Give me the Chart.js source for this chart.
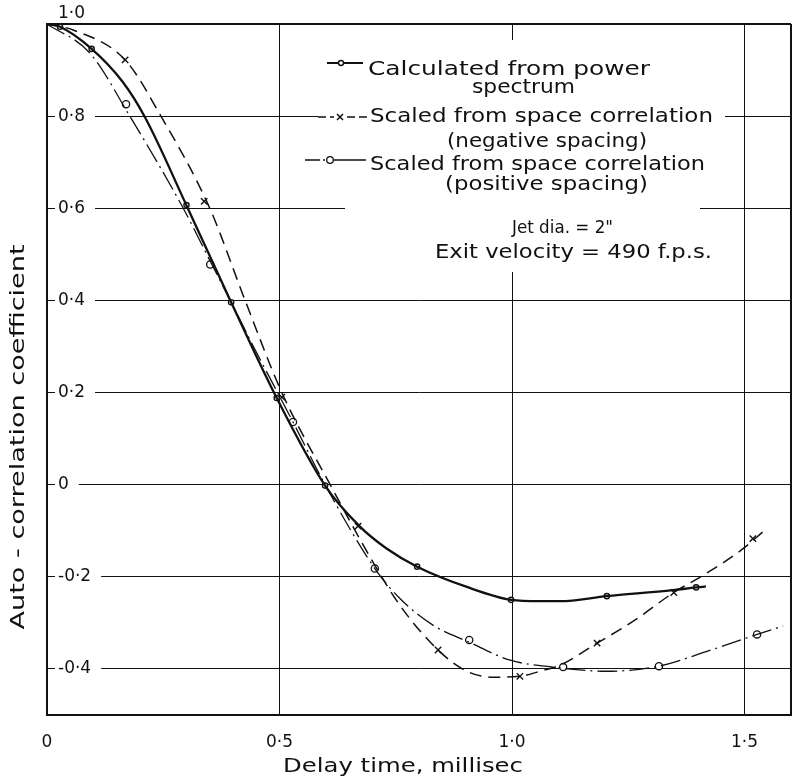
<!DOCTYPE html>
<html>
<head>
<meta charset="utf-8">
<script src="https://cdn.jsdelivr.net/npm/chart.js@4/dist/chart.umd.min.js"></script>
<style>
html,body{margin:0;padding:0;background:#fff;}
#wrap{width:797px;height:780px;position:relative;}
canvas{display:block;}
</style>
</head>
<body>
<div id="wrap"><canvas id="c" width="797" height="780"></canvas></div>
<script>
// ---------- DATA ----------
const xTickValues = [0, 0.5, 1.0, 1.5, 1.6];
const xTickLabels = ['0', '0·5', '1·0', '1·5', ''];
const yTickValues = [-0.4, -0.2, 0, 0.2, 0.4, 0.6, 0.8, 1.0];
const yTickLabels = ['-0·4', '-0·2', '0', '0·2', '0·4', '0·6', '0·8', '1·0'];

// Calculated from power spectrum (solid)
const calcCurveX = [0, 0.028, 0.096, 0.163, 0.211, 0.301, 0.396, 0.494, 0.598, 0.673, 0.731, 0.796, 0.903, 0.998, 1.060, 1.103, 1.204, 1.346, 1.396, 1.417];
const calcCurveY = [1.0, 0.994, 0.946, 0.874, 0.797, 0.604, 0.396, 0.188, -0.002, -0.091, -0.139, -0.178, -0.222, -0.250, -0.253, -0.253, -0.242, -0.229, -0.223, -0.221];
const calcMarkX = [0.028, 0.096, 0.300, 0.396, 0.494, 0.598, 0.796, 0.998, 1.204, 1.396];
const calcMarkY = [0.994, 0.946, 0.607, 0.396, 0.188, -0.002, -0.178, -0.250, -0.242, -0.223];

// Scaled from space correlation, negative spacing (dashed, x)
const negCurveX = [0, 0.056, 0.168, 0.245, 0.350, 0.426, 0.505, 0.609, 0.705, 0.759, 0.841, 0.903, 0.959, 1.017, 1.060, 1.103, 1.183, 1.260, 1.348, 1.411, 1.497, 1.540];
const negCurveY = [1.0, 0.987, 0.922, 0.800, 0.600, 0.400, 0.200, 0.000, -0.175, -0.262, -0.359, -0.405, -0.418, -0.416, -0.405, -0.392, -0.344, -0.297, -0.234, -0.197, -0.139, -0.102];
const negMarkX = [0.168, 0.338, 0.505, 0.669, 0.841, 1.017, 1.183, 1.348, 1.518];
const negMarkY = [0.922, 0.615, 0.190, -0.090, -0.359, -0.416, -0.344, -0.234, -0.117];

// Scaled from space correlation, positive spacing (dash-dot, o)
const posCurveX = [0, 0.092, 0.178, 0.293, 0.351, 0.396, 0.447, 0.529, 0.598, 0.705, 0.759, 0.830, 0.908, 0.996, 1.088, 1.204, 1.316, 1.419, 1.527, 1.583];
const posCurveY = [1.0, 0.937, 0.800, 0.600, 0.485, 0.396, 0.294, 0.136, 0.000, -0.182, -0.247, -0.305, -0.342, -0.381, -0.396, -0.405, -0.394, -0.362, -0.325, -0.307];
const posMarkX = [0.170, 0.351, 0.529, 0.705, 0.908, 1.110, 1.316, 1.527];
const posMarkY = [0.826, 0.478, 0.136, -0.182, -0.337, -0.396, -0.394, -0.325];

const legendLines = ['Calculated from power', 'spectrum', 'Scaled from space correlation', '(negative spacing)', 'Scaled from space correlation', '(positive spacing)'];
const noteLines = ['Jet dia. = 2"', 'Exit velocity = 490 f.p.s.'];
const xTitle = 'Delay time, millisec';
const yTitle = 'Auto - correlation coefficient';

// ---------- STYLE ----------
const INK = '#111';
const FONT = '"DejaVu Sans", "Liberation Sans", sans-serif';
const SOLID_W = 2.3, DASH = [12, 7], DASH_W = 1.5, DASHDOT = [20, 5, 2, 5], DASHDOT_W = 1.3;

const toXY = (xs, ys) => xs.map((x, i) => ({x: x, y: ys[i]}));

function fitText(c, str, x, baseline, width, size, align) {
  c.font = size + 'px ' + FONT;
  const w = c.measureText(str).width;
  const k = width / w;
  c.save();
  c.translate(x, baseline);
  c.scale(k, 1);
  c.textAlign = align || 'left';
  c.textBaseline = 'alphabetic';
  c.fillStyle = INK;
  c.fillText(str, 0, 0);
  c.restore();
}

const annotPlugin = {
  id: 'annot',
  beforeDatasetsDraw(chart) {
    const c = chart.ctx;
    c.save();
    // white legend panel interrupting the grid
    c.fillStyle = '#fff';
    c.fillRect(318, 40, 407, 135);
    c.fillRect(345, 175, 355, 97);

    c.strokeStyle = INK;
    c.fillStyle = INK;
    // sample 1: solid with small circle
    c.lineWidth = 2;
    c.setLineDash([]);
    c.beginPath(); c.moveTo(327, 63); c.lineTo(363, 63); c.stroke();
    c.lineWidth = 1.4;
    c.beginPath(); c.arc(341, 63, 2.5, 0, Math.PI * 2); c.fillStyle = '#fff'; c.fill(); c.stroke();
    // sample 2: dashed with x
    c.lineWidth = 1.5;
    [[318, 326], [330, 334], [347, 355], [359, 367]].forEach(s => {
      c.beginPath(); c.moveTo(s[0], 117); c.lineTo(s[1], 117); c.stroke();
    });
    c.beginPath(); c.moveTo(337, 114); c.lineTo(343, 120); c.moveTo(343, 114); c.lineTo(337, 120); c.stroke();
    // sample 3: dash-dot with o
    c.lineWidth = 1.3;
    c.beginPath(); c.moveTo(305, 160); c.lineTo(320, 160); c.moveTo(323, 160); c.lineTo(325, 160); c.moveTo(334, 160); c.lineTo(366, 160); c.stroke();
    c.beginPath(); c.arc(330, 160, 3.3, 0, Math.PI * 2); c.fillStyle = '#fff'; c.fill(); c.stroke();

    // legend text
    fitText(c, legendLines[0], 368, 75, 282, 19);
    fitText(c, legendLines[1], 472, 93, 103, 19);
    fitText(c, legendLines[2], 370, 122, 343, 19);
    fitText(c, legendLines[3], 447, 147, 200, 19);
    fitText(c, legendLines[4], 370, 170, 335, 19);
    fitText(c, legendLines[5], 445, 190, 203, 19);
    fitText(c, noteLines[0], 512, 233, 101, 17);
    fitText(c, noteLines[1], 435, 258, 277, 19);
    c.restore();
  },
  afterDraw(chart) {
    const c = chart.ctx;
    c.save();
    fitText(c, xTitle, 283, 772, 240, 20);
    c.translate(24, 437);
    c.rotate(-Math.PI / 2);
    fitText(c, yTitle, 0, 0, 385, 20, 'center');
    c.restore();
  }
};

const tickFont = {family: FONT, size: 17};

new Chart(document.getElementById('c').getContext('2d'), {
  type: 'scatter',
  data: {
    datasets: [
      {label: 'Calculated from power spectrum', data: toXY(calcCurveX, calcCurveY), showLine: true,
       borderColor: INK, borderWidth: SOLID_W, pointRadius: 0, cubicInterpolationMode: 'monotone', fill: false},
      {label: 'Calculated (points)', data: toXY(calcMarkX, calcMarkY), showLine: false,
       pointStyle: 'circle', pointRadius: 2.6, pointBorderWidth: 1.4, pointBorderColor: INK, pointBackgroundColor: '#fff'},
      {label: 'Scaled from space correlation (negative spacing)', data: toXY(negCurveX, negCurveY), showLine: true,
       borderColor: INK, borderWidth: DASH_W, borderDash: DASH, pointRadius: 0, cubicInterpolationMode: 'monotone', fill: false},
      {label: 'Negative spacing (points)', data: toXY(negMarkX, negMarkY), showLine: false,
       pointStyle: 'crossRot', pointRadius: 4.5, pointBorderWidth: 1.4, pointBorderColor: INK},
      {label: 'Scaled from space correlation (positive spacing)', data: toXY(posCurveX, posCurveY), showLine: true,
       borderColor: INK, borderWidth: DASHDOT_W, borderDash: DASHDOT, pointRadius: 0, cubicInterpolationMode: 'monotone', fill: false},
      {label: 'Positive spacing (points)', data: toXY(posMarkX, posMarkY), showLine: false,
       pointStyle: 'circle', pointRadius: 3.6, pointBorderWidth: 1.3, pointBorderColor: INK, pointBackgroundColor: '#fff'}
    ]
  },
  options: {
    responsive: false,
    animation: false,
    devicePixelRatio: 1,
    layout: {padding: {top: 24, right: 6, bottom: 0, left: 0}},
    plugins: {legend: {display: false}, tooltip: {enabled: false}, title: {display: false}},
    scales: {
      x: {
        type: 'linear', min: 0, max: 1.6,
        afterBuildTicks: s => { s.ticks = xTickValues.map(v => ({value: v})); },
        afterFit: s => { s.height = 65; s.paddingLeft = 0; s.paddingRight = 0; s.paddingTop = 0; s.paddingBottom = 0; },
        ticks: {autoSkip: false, maxRotation: 0, minRotation: 0, padding: 17, color: INK, font: tickFont,
                callback: (v, i) => xTickLabels[i]},
        grid: {color: INK, drawTicks: false, lineWidth: ctx => (ctx.tick && ctx.tick.value === 1.6) ? 2 : 1},
        border: {display: true, color: INK, width: 2}
      },
      y: {
        type: 'linear', min: -0.5, max: 1.0,
        afterBuildTicks: s => { s.ticks = yTickValues.map(v => ({value: v})); },
        afterFit: s => { s.width = 47; s.paddingLeft = 0; s.paddingRight = 0; s.paddingTop = 0; s.paddingBottom = 0; },
        ticks: {autoSkip: false, mirror: true, padding: 11, color: INK, font: tickFont,
                showLabelBackdrop: ctx => ctx.tick.value !== 1.0,
                backdropColor: '#fff',
                backdropPadding: {top: 2, bottom: 2, left: 3, right: 10},
                callback: (v, i) => (yTickValues[i] === 1.0 ? [yTickLabels[i], ''] : yTickLabels[i])},
        grid: {color: INK, drawTicks: false, lineWidth: ctx => (ctx.tick && ctx.tick.value === 1.0) ? 2 : 1},
        border: {display: true, color: INK, width: 2}
      }
    }
  },
  plugins: [annotPlugin]
});
</script>
</body>
</html>
